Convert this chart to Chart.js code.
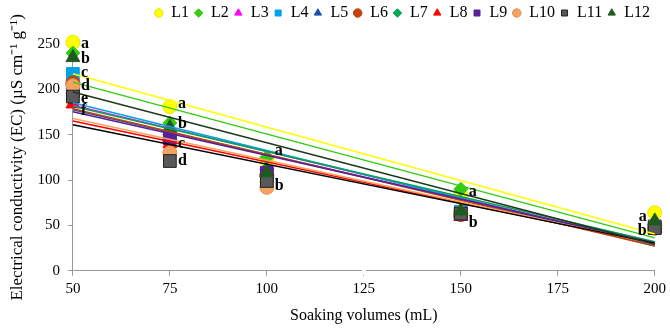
<!DOCTYPE html>
<html>
<head>
<meta charset="utf-8">
<script src="https://cdn.jsdelivr.net/npm/chart.js@4"></script>
<style>
  html, body { margin: 0; padding: 0; background: #fff; }
</style>
</head>
<body>
<canvas id="myChart" width="670" height="329"></canvas>
<script>
// soaking volumes (mL)
let volumes = [50, 75, 100, 150, 200];

// EC values per line, one entry per volume
let names = ['L1', 'L2', 'L3', 'L4', 'L5', 'L6', 'L7', 'L8', 'L9', 'L10', 'L11', 'L12'];
let L1  = [252, 181, 122, 84, 64];
let L2  = [240, 163, 125, 90, 50];
let L3  = [205, 154, 110, 64, 48];
let L4  = [217, 148, 106, 65, 48];
let L5  = [200, 147, 110, 63, 47];
let L6  = [207, 144, 105, 62, 47];
let L7  = [205, 150, 112, 66, 50];
let L8  = [184, 140, 102, 60, 46];
let L9  = [198, 146, 108, 63, 49];
let L10 = [204, 130, 92, 64, 50];
let L11 = [192, 121, 99, 63, 47];
let L12 = [235, 158, 108, 66, 55];

// significance letters (volume, EC level, letter)
let letterX = [50, 50, 50, 50, 50, 50, 75, 75, 75, 75, 100, 100, 150, 150, 200, 200];
let letterY = [250, 234, 218, 204, 190, 176, 184, 162, 140, 121, 132, 94, 87, 53, 60, 44];
let letterT = ['a', 'b', 'c', 'd', 'e', 'f', 'a', 'b', 'c', 'd', 'a', 'b', 'a', 'b', 'a', 'b'];

let series = [L1, L2, L3, L4, L5, L6, L7, L8, L9, L10, L11, L12];
let colors = ['#ffff00', '#33cc11', '#ff00ff', '#00a2e8', '#1f4fa8', '#c0440a',
              '#00a651', '#ff0000', '#5a1f99', '#f4a460', '#595959', '#1e5a1e'];
let borders = ['#e8e800', '#33cc11', '#ff00ff', '#00a2e8', '#1f4fa8', '#c0440a',
               '#00a651', '#ff0000', '#5a1f99', '#e09050', '#222222', '#1e5a1e'];
let lineColors = ['#ffff00', '#33cc11', '#ff00ff', '#00a2e8', '#1f4fa8', '#c0440a',
                  '#00a651', '#ff0000', '#5a1f99', '#f4a460', '#000000', '#1e3a1e'];
let styles = ['circle', 'rectRot', 'triangle', 'rect', 'triangle', 'circle',
              'rectRot', 'triangle', 'rect', 'circle', 'rect', 'triangle'];
let radius = { circle: 7, rectRot: 7, triangle: 8, rect: 9 };

// least squares trend line over the measured volumes
function trend(ys) {
  let n = volumes.length;
  let mx = volumes.reduce((a, b) => a + b) / n;
  let my = ys.reduce((a, b) => a + b) / n;
  let sxy = 0, sxx = 0;
  for (let i = 0; i < n; i++) {
    sxy += (volumes[i] - mx) * (ys[i] - my);
    sxx += (volumes[i] - mx) * (volumes[i] - mx);
  }
  let slope = sxy / sxx;
  let icpt = my - slope * mx;
  let x0 = volumes[0], x1 = volumes[n - 1];
  return [{ x: x0, y: icpt + slope * x0 }, { x: x1, y: icpt + slope * x1 }];
}

let datasets = [];
series.forEach((ys, i) => {
  datasets.push({
    label: names[i],
    data: ys.map((y, j) => ({ x: volumes[j], y: y })),
    pointStyle: styles[i],
    pointRadius: radius[styles[i]],
    backgroundColor: colors[i],
    borderColor: borders[i],
    borderWidth: 1,
    showLine: false,
    clip: false,
    order: 200 - i
  });
});
series.forEach((ys, i) => {
  datasets.push({
    label: names[i] + ' trend',
    data: trend(ys),
    type: 'line',
    borderColor: lineColors[i],
    borderWidth: 1.5,
    pointRadius: 0,
    fill: false,
    clip: false,
    order: 20 - i
  });
});

let serif = 'Liberation Serif';

// extra room under the legend
let legendGap = {
  id: 'legendGap',
  beforeInit(chart) {
    let fit = chart.legend.fit;
    chart.legend.fit = function () {
      fit.bind(chart.legend)();
      this.height += 13;
    };
  }
};

let extras = {
  id: 'extras',
  afterDatasetsDraw(chart) {
    let ctx = chart.ctx;
    let xs = chart.scales.x, ys = chart.scales.y;
    ctx.save();
    ctx.font = 'bold 16px "' + serif + '"';
    ctx.fillStyle = '#000';
    ctx.textBaseline = 'middle';
    for (let i = 0; i < letterT.length; i++) {
      let px = xs.getPixelForValue(letterX[i]);
      let py = ys.getPixelForValue(letterY[i]);
      if (letterX[i] === xs.max) {
        ctx.textAlign = 'right';
        ctx.fillText(letterT[i], px - 8, py);
      } else {
        ctx.textAlign = 'left';
        ctx.fillText(letterT[i], px + 8, py);
      }
    }
    // axis break at 125
    let bx = xs.getPixelForValue(125);
    let by = ys.getPixelForValue(0);
    ctx.fillStyle = '#fff';
    ctx.fillRect(bx - 2, by - 4, 4, 8);
    ctx.restore();
  }
};

var ctx = document.getElementById('myChart').getContext('2d');
var chart = new Chart(ctx, {
  type: 'scatter',
  data: { datasets: datasets },
  plugins: [legendGap, extras],
  options: {
    responsive: false,
    animation: false,
    devicePixelRatio: 1,
    layout: { padding: { left: 5, right: 15, top: 0, bottom: 2 } },
    plugins: {
      legend: {
        position: 'top',
        align: 'end',
        labels: {
          usePointStyle: true,
          boxWidth: 9,
          boxHeight: 6,
          padding: 5,
          color: '#000',
          font: { family: serif, size: 16 },
          filter: item => item.datasetIndex < 12,
          sort: (a, b) => a.datasetIndex - b.datasetIndex
        }
      },
      tooltip: { enabled: false }
    },
    scales: {
      x: {
        type: 'linear',
        min: 50,
        max: 200,
        ticks: { stepSize: 25, color: '#000', font: { family: serif, size: 15 }, padding: 4 },
        grid: { drawOnChartArea: false, color: '#999', tickLength: 5 },
        border: { color: '#999' },
        title: { display: true, text: 'Soaking volumes (mL)', color: '#000', font: { family: serif, size: 16 }, padding: { top: 4, bottom: 2 } }
      },
      y: {
        min: 0,
        max: 250,
        ticks: { stepSize: 50, color: '#000', font: { family: serif, size: 15 }, padding: 8 },
        grid: { drawOnChartArea: false, color: '#999', tickLength: 5 },
        border: { color: '#999' },
        title: { display: true, text: 'Electrical conductivity (EC) (µS cm⁻¹ g⁻¹)', color: '#000', font: { family: serif, size: 17 }, padding: { top: 2, bottom: 2 } }
      }
    }
  }
});
</script>
</body>
</html>
